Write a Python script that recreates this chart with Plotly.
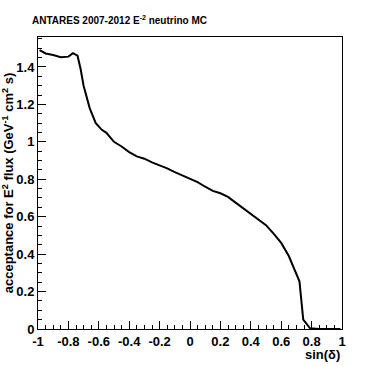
import plotly.graph_objects as go

# acceptance vs sin(declination)
sin_dec = [-0.99, -0.95, -0.90, -0.85, -0.80, -0.77, -0.74, -0.72, -0.70, -0.66,
           -0.62, -0.58, -0.55, -0.50, -0.45, -0.40, -0.35, -0.30, -0.25, -0.20,
           -0.15, -0.10, -0.05, 0.00, 0.05, 0.10, 0.15, 0.20, 0.25, 0.30,
           0.35, 0.40, 0.45, 0.50, 0.55, 0.60, 0.65, 0.70, 0.72, 0.745,
           0.79, 0.85, 0.90, 0.95, 0.99]
acceptance = [1.490, 1.472, 1.464, 1.452, 1.455, 1.474, 1.460, 1.390, 1.300, 1.180,
              1.100, 1.064, 1.048, 1.000, 0.975, 0.945, 0.922, 0.910, 0.890, 0.875,
              0.858, 0.838, 0.820, 0.800, 0.785, 0.760, 0.738, 0.725, 0.706, 0.675,
              0.645, 0.615, 0.588, 0.555, 0.510, 0.460, 0.390, 0.290, 0.255, 0.050,
              0.004, 0.0, 0.0, 0.0, 0.0]

x_ticks = [-1, -0.8, -0.6, -0.4, -0.2, 0, 0.2, 0.4, 0.6, 0.8, 1]
x_labels = ["-1", "-0.8", "-0.6", "-0.4", "-0.2", "0", "0.2", "0.4", "0.6", "0.8", "1"]
y_ticks = [0, 0.2, 0.4, 0.6, 0.8, 1, 1.2, 1.4]
y_labels = ["0", "0.2", "0.4", "0.6", "0.8", "1", "1.2", "1.4"]

font = "Liberation Sans, Arial, sans-serif"

fig = go.Figure()
fig.add_trace(go.Scatter(x=sin_dec, y=acceptance, mode="lines",
                         line=dict(color="black", width=2), showlegend=False))

axis_common = dict(
    showgrid=False, zeroline=False, showline=True, linecolor="black", linewidth=1,
    mirror=True, ticks="inside", ticklen=8, tickcolor="black", tickwidth=1,
    automargin=False,
    tickfont=dict(family=font, size=13, color="black", weight="bold"),
)

fig.update_xaxes(range=[-1, 1], tickvals=x_ticks, ticktext=x_labels,
                 minor=dict(dtick=0.05, ticks="inside", ticklen=4, tickcolor="black"),
                 **axis_common)
fig.update_yaxes(range=[0, 1.56], tickvals=y_ticks, ticktext=y_labels,
                 minor=dict(dtick=0.05, ticks="inside", ticklen=4, tickcolor="black"),
                 title=dict(text="acceptance for E<sup>2</sup> flux (GeV<sup>-1</sup> cm<sup>2</sup> s)",
                            font=dict(family=font, size=13, color="black", weight="bold"),
                            standoff=2),
                 **axis_common)

fig.update_layout(
    width=382, height=366,
    margin=dict(l=38, r=40, t=37, b=37),
    paper_bgcolor="white", plot_bgcolor="white",
    annotations=[
        dict(text="ANTARES 2007-2012 E<sup>-2</sup> neutrino MC", xref="paper", yref="paper",
             x=-0.025, y=1.03, xanchor="left", yanchor="bottom", showarrow=False,
             font=dict(family=font, size=10, color="black", weight="bold")),
        dict(text="sin(δ)", xref="paper", yref="paper", x=1.0, y=-0.055,
             xanchor="right", yanchor="top", showarrow=False,
             font=dict(family=font, size=13, color="black", weight="bold")),
    ],
)

# page body has a default 8px margin; drop it so the figure sits at the corner
fig.write_html("out.html", config={"displayModeBar": False},
               post_script="document.body.style.margin='0';")
